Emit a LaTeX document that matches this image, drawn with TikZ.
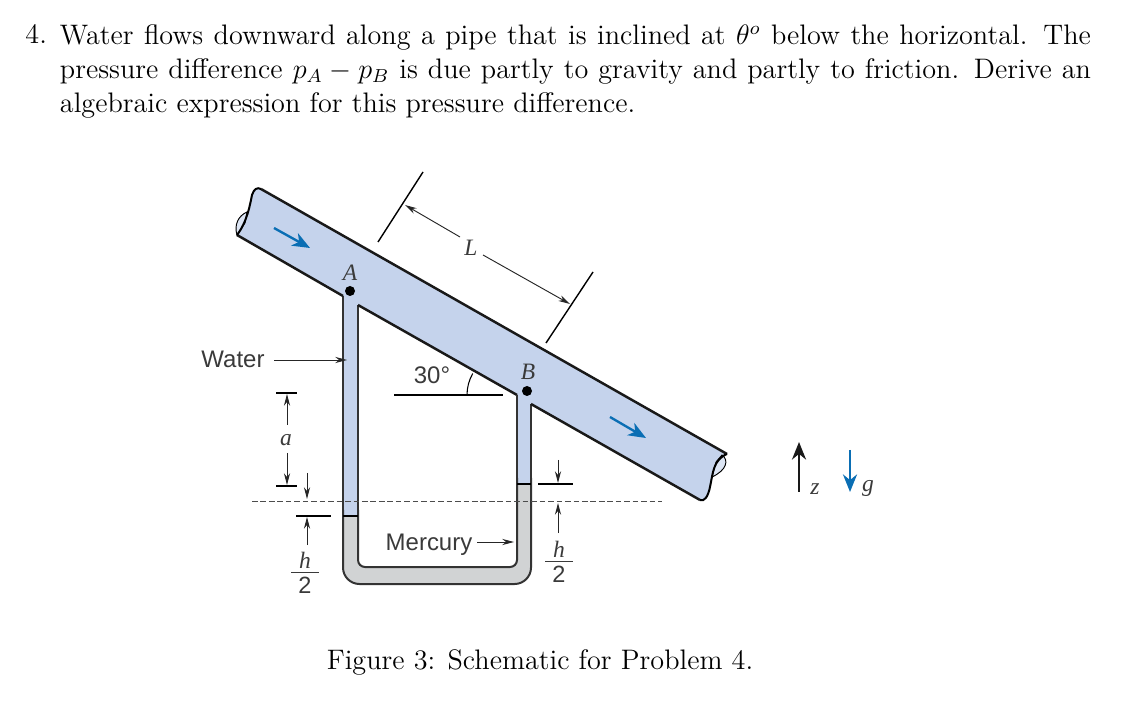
\documentclass[tikz,border=0pt]{standalone}
\usepackage{amsmath,amssymb}
\usepackage[no-math]{fontspec}
\newfontfamily\figsans{Liberation Sans}
\newfontfamily\figserif{Liberation Serif}
\usetikzlibrary{arrows.meta}
\definecolor{pipeblue}{HTML}{C5D3EC}
\definecolor{mercgrey}{HTML}{D1D3D4}
\definecolor{flowblue}{HTML}{0A6EB4}
\definecolor{labelgrey}{HTML}{3A3A3A}
\tikzset{
	wall/.style={line width=1.05pt,black!90},
	tubewall/.style={line width=0.85pt,black!80},
	dimline/.style={line width=0.4pt,black!85},
	dimarrow/.style={dimline,-{Stealth[length=5pt,width=2.6pt]}},
	flowarrow/.style={line width=1pt,flowblue,-{Stealth[length=7.5pt,width=6pt,inset=2.2pt]}},
	sanslabel/.style={font=\figsans\fontsize{10.2}{12}\selectfont,text=labelgrey,inner sep=0pt},
	itlabel/.style={font=\figserif\itshape\fontsize{10}{12}\selectfont,text=labelgrey,inner sep=0pt},
	halflabel/.style={text=labelgrey,inner sep=0pt}
}
\newcommand{\halffrac}{\vbox{\offinterlineskip\fontsize{10}{12}\selectfont
	\hbox to 11.5pt{\hfil\figserif\itshape h\hfil}\kern1.5pt\hrule height 0.3pt\kern2pt\hbox to 11.5pt{\hfil\figsans 2\hfil}}}
\begin{document}
\begin{tikzpicture}[x=0.4255pt,y=-0.4255pt]
	\useasboundingbox (0,0) rectangle (1122,716);

	\node[anchor=base west,inner sep=0pt,font=\fontsize{12}{14.5}\selectfont] (num) at (25,44) {4.};
	\node[anchor=north west,inner sep=0pt,text width=1031*0.4255pt,align=justify,font=\fontsize{12}{14.5}\selectfont] (problem) at (59.5,24)
		{Water flows downward along a pipe that is inclined at $\theta^o$ below the horizontal. The pressure difference $p_A-p_B$ is due partly to gravity and partly to friction. Derive an algebraic expression for this pressure difference.};
	\node[inner sep=0pt,font=\fontsize{12}{14.5}\selectfont] (caption) at (540,662) {Figure 3: Schematic for Problem 4.};

	\fill[pipeblue] (343,296) -- (237,235) .. controls (247,222) and (250,205) .. (252,195) .. controls (254,189) and (257,187) .. (261,189) -- (727,454)
		.. controls (713,460) and (713,473) .. (710,487) .. controls (708,497) and (704,502) .. (700,500) -- (531,404) -- (531,484) -- (517,484) -- (517,395) -- (358,305) -- (358,516) -- (343,516) -- cycle;
	\fill[mercgrey] (343,516) [rounded corners=7pt] -- (343,584) -- (531,584) [sharp corners] -- (531,484) -- (517,484) [rounded corners=3pt] -- (517,567) -- (358,567) [sharp corners] -- (358,516) -- cycle;

	\draw[tubewall] (343,516) -- (343,296);
	\draw[wall] (343,296) -- (237,235);
	\draw[tubewall] (358,516) -- (358,305);
	\draw[wall] (358,305) -- (517,395);
	\draw[tubewall] (517,395) -- (517,484);
	\draw[tubewall] (531,484) -- (531,404);
	\draw[wall] (531,404) -- (700,500);
	\draw[wall] (261,189) -- (727,454);
	\draw[tubewall,rounded corners=7pt] (343,510) -- (343,584) -- (531,584) -- (531,478);
	\draw[tubewall,rounded corners=3pt] (358,510) -- (358,567) -- (517,567) -- (517,478);
	\draw[line width=0.5pt] (343,516) -- (358,516);
	\draw[line width=0.5pt] (517,484) -- (531,484);

	\draw[line width=0.4pt,fill=pipeblue!60] (247,212) .. controls (238,216) and (234,225) .. (237,235) -- (245,223) -- cycle;
	\draw[line width=0.85pt] (237,235) .. controls (247,222) and (250,205) .. (252,195) .. controls (254,189) and (257,187) .. (261,189);
	\draw[line width=0.4pt,fill=pipeblue!60] (722,455) .. controls (729,460) and (727,470) .. (712,477) -- (716,462) -- cycle;
	\draw[line width=0.85pt] (727,454) .. controls (713,460) and (713,473) .. (710,487) .. controls (708,497) and (704,502) .. (700,500);

	\fill (350,291) circle (5) coordinate (ptA);
	\fill (527,391) circle (5) coordinate (ptB);
	\node[itlabel] (labA) at (350,273) {A};
	\node[itlabel] (labB) at (528,372) {B};

	\draw[line width=0.6pt] (423,172) -- (378,242);
	\draw[line width=0.6pt] (593,272) -- (546,343);
	\node[itlabel] (labL) at (471,248) {L};
	\draw[dimarrow] (460,237) -- (405,205);
	\draw[dimarrow] (483,255) -- (570,304);

	\node[sanslabel] (water) at (233,359) {Water};
	\draw[dimarrow] (274,360) -- (347,360);
	\node[sanslabel] (angle) at (432,375) {30°};
	\draw[line width=0.7pt] (394,395) -- (503,395);
	\draw[line width=0.45pt] (467,395) arc (180:210:43);

	\draw[line width=0.7pt] (276,393) -- (297,393);
	\draw[line width=0.7pt] (276,486) -- (297,486);
	\node[itlabel] (laba) at (286,440) {a};
	\draw[dimarrow] (287,425) -- (287,394);
	\draw[dimarrow] (287,453) -- (287,485);

	\draw[line width=0.35pt,dash pattern=on 2.4pt off 1.2pt,black!70] (252,501) -- (662,501);

	\draw[dimarrow] (307,473) -- (307,499);
	\draw[line width=0.7pt] (296,516) -- (331,516);
	\draw[dimarrow] (307,545) -- (307,517);
	\node[halflabel] (halfleft) at (305,573) {\halffrac};

	\draw[dimarrow] (558,460) -- (558,483);
	\draw[line width=0.7pt] (538,484) -- (573,484);
	\draw[dimarrow] (558,533) -- (558,503);
	\node[halflabel] (halfright) at (559,562) {\halffrac};

	\node[sanslabel] (mercury) at (429,545) {Mercury};
	\draw[dimarrow] (477,542) -- (514,542);

	\draw[flowarrow] (274,228) -- (310,248);
	\draw[flowarrow] (610,417) -- (646,438);

	\draw[line width=1pt,black!90,-{Stealth[length=7.5pt,width=6pt]}] (799,492) -- (799,442);
	\node[itlabel] (labz) at (815,489) {z};
	\draw[line width=1pt,flowblue,-{Stealth[length=7.5pt,width=6pt]}] (850,450) -- (850,492);
	\node[itlabel] (labg) at (868,488) {g};
\end{tikzpicture}
\end{document}
